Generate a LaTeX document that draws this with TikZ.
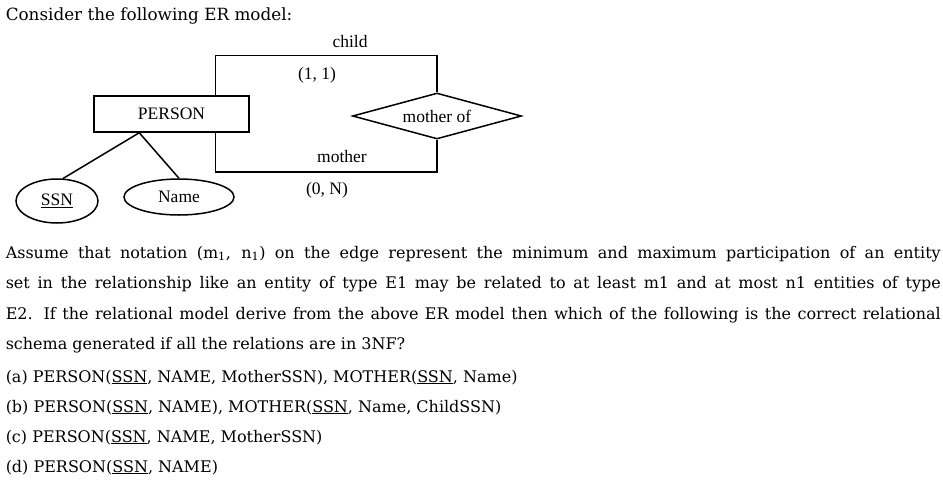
\documentclass[tikz,border=0pt]{standalone}
\usepackage{fontspec}
\newfontfamily\erfont{Liberation Serif}
\newfontfamily\qfont{DejaVu Serif}
\usetikzlibrary{shapes,positioning,calc}
\newcommand{\erlabel}{\erfont\fontsize{17.5}{20}\selectfont}
\newcommand{\qtext}{\qfont\fontsize{16}{30.5}\selectfont}
\tikzset{
  every path/.style={line width=1.5pt},
  entity/.style={draw,rectangle,minimum width=155pt,minimum height=36pt,inner sep=0pt,font=\erlabel},
  attrib/.style={draw,ellipse,inner sep=0pt,font=\erlabel},
  relship/.style={draw,diamond,aspect=3.67,minimum width=169pt,minimum height=46pt,inner sep=0pt,font=\erlabel},
  role/.style={inner sep=0pt,font=\erlabel},
  question/.style={anchor=base west,inner sep=0pt,text width=935pt,align=justify,font=\qtext},
  choice/.style={anchor=base west,inner sep=0pt,font=\qtext},
}

\begin{document}
\begin{tikzpicture}[x=1pt,y=-1pt]
  \useasboundingbox (0,0) rectangle (943,496);
  \node[choice,font=\qfont\fontsize{16.8}{20}\selectfont] (intro) at (5,20) {Consider the following ER model:};

  % entity, attributes and relationship
  \node[entity] (person) at (171.5,114) {PERSON};
  \node[attrib,minimum width=82pt,minimum height=44pt] (ssn) at (57,201) {\underline{SSN}};
  \node[attrib,minimum width=110pt,minimum height=36pt] (name) at (179,197) {Name};
  \node[relship] (mof) at (437,116) {mother of};

  \coordinate (fork) at ($(person.south west)+(46,0)$);
  \draw (fork) -- (ssn.75);
  \draw (fork) -- (name.north);

  \draw (person.north west) ++(122,0) -- ++(0,-40) -| (mof.north);
  \draw (person.south west) ++(122,0) -- ++(0,39) -| (mof.south);

  \node[role] (child) at (350,42) {child};
  \node[role] (card1) at (317,75) {(1, 1)};
  \node[role] (mother) at (342,157) {mother};
  \node[role] (card2) at (327,190) {(0, N)};

  % question text
  \node[question] (body) at (5,258) {Assume that notation (m\textsubscript{1}, n\textsubscript{1}) on the edge represent the minimum and maximum participation of an entity\linebreak
    set in the relationship like an entity of type E1 may be related to at least m1 and at most n1 entities of type\linebreak
    E2. If the relational model derive from the above ER model then which of the following is the correct relational\linebreak
    schema generated if all the relations are in 3NF?};

  \node[choice] (opta) at (5,382) {(a) PERSON(\underline{SSN}, NAME, MotherSSN), MOTHER(\underline{SSN}, Name)};
  \node[choice] (optb) at (5,412) {(b) PERSON(\underline{SSN}, NAME), MOTHER(\underline{SSN}, Name, ChildSSN)};
  \node[choice] (optc) at (5,442) {(c) PERSON(\underline{SSN}, NAME, MotherSSN)};
  \node[choice] (optd) at (5,472) {(d) PERSON(\underline{SSN}, NAME)};
\end{tikzpicture}
\end{document}
